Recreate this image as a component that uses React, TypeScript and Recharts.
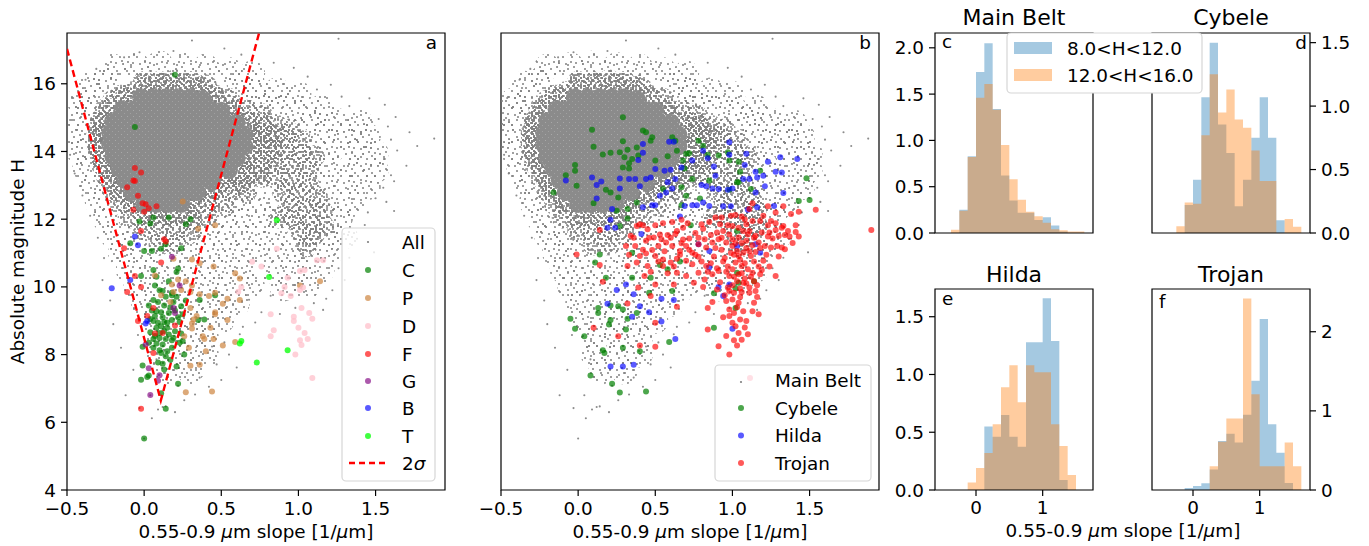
import React from 'react';
import { ScatterChart, Scatter, XAxis, YAxis, ReferenceArea, ComposedChart, Area } from 'recharts';

type Pt = [number, number];

const FONT = '"DejaVu Sans", Verdana, sans-serif';
const FS = 18.4;
const TICK = { fontSize: FS, fill: '#000', fontFamily: FONT };
const TICKLINE = { stroke: '#000', strokeWidth: 1.2 };
const GRAY = '#808080';

// ---------- shared background cloud (all objects / main belt) ----------
// solid core of the distribution
const cloudCore: Pt[] = [
  [-0.02, 15.6], [0.06, 15.6], [0.14, 15.6], [0.22, 15.6], [0.3, 15.6], [0.38, 15.55],
  [-0.14, 15.25], [-0.06, 15.25], [0.02, 15.25], [0.1, 15.25], [0.18, 15.25], [0.26, 15.25], [0.34, 15.25], [0.42, 15.25], [0.5, 15.2],
  [-0.2, 14.9], [-0.12, 14.9], [-0.04, 14.9], [0.04, 14.9], [0.12, 14.9], [0.2, 14.9], [0.28, 14.9], [0.36, 14.9], [0.44, 14.9], [0.52, 14.9], [0.6, 14.85],
  [-0.22, 14.55], [-0.14, 14.55], [-0.06, 14.55], [0.02, 14.55], [0.1, 14.55], [0.18, 14.55], [0.26, 14.55], [0.34, 14.55], [0.42, 14.55], [0.5, 14.55], [0.58, 14.55], [0.65, 14.5],
  [-0.22, 14.2], [-0.14, 14.2], [-0.06, 14.2], [0.02, 14.2], [0.1, 14.2], [0.18, 14.2], [0.26, 14.2], [0.34, 14.2], [0.42, 14.2], [0.5, 14.2], [0.58, 14.2], [0.65, 14.15],
  [-0.2, 13.85], [-0.12, 13.85], [-0.04, 13.85], [0.04, 13.85], [0.12, 13.85], [0.2, 13.85], [0.28, 13.85], [0.36, 13.85], [0.44, 13.85], [0.52, 13.85], [0.6, 13.8],
  [-0.16, 13.5], [-0.08, 13.5], [0.0, 13.5], [0.08, 13.5], [0.16, 13.5], [0.24, 13.5], [0.32, 13.5], [0.4, 13.5], [0.48, 13.5], [0.55, 13.45],
  [-0.12, 13.15], [-0.04, 13.15], [0.04, 13.15], [0.12, 13.15], [0.2, 13.15], [0.28, 13.15], [0.36, 13.15], [0.44, 13.1],
  [-0.08, 12.8], [0.02, 12.8], [0.1, 12.8], [0.18, 12.8], [0.26, 12.8], [0.34, 12.8],
  [0.0, 12.45], [0.08, 12.45], [0.16, 12.45], [0.24, 12.45],
];

// dense ring hugging the core
const cloudInner: Pt[] = [
  [0.0, 15.95], [0.12, 16.0], [0.24, 15.98], [0.36, 15.9],
  [-0.12, 15.6], [0.46, 15.6], [-0.22, 15.25], [0.58, 15.2],
  [-0.28, 14.9], [0.68, 14.85], [0.78, 14.75], [-0.3, 14.55], [0.74, 14.5], [0.84, 14.45],
  [-0.3, 14.2], [0.74, 14.15], [0.84, 14.1], [-0.28, 13.85], [0.7, 13.8], [0.8, 13.75],
  [-0.24, 13.5], [0.64, 13.45], [0.74, 13.4], [-0.2, 13.15], [0.53, 13.1], [0.63, 13.1],
  [-0.16, 12.8], [0.43, 12.8], [-0.08, 12.45], [0.33, 12.45],
  [0.04, 12.1], [0.16, 12.1], [0.28, 12.1],
];

// moderately dense belt around the core
const cloudMid: Pt[] = [
  [0.0, 16.05], [0.1, 16.05], [0.2, 16.1], [0.3, 16.05], [0.4, 15.95],
  [-0.15, 15.65], [-0.08, 15.75], [0.46, 15.65], [0.55, 15.55],
  [-0.25, 15.25], [-0.2, 15.5], [0.58, 15.25], [0.67, 15.2], [0.76, 15.1],
  [-0.28, 14.85], [0.68, 14.85], [0.77, 14.8], [0.86, 14.75], [0.95, 14.65],
  [-0.3, 14.45], [0.73, 14.45], [0.82, 14.45], [0.92, 14.4], [1.02, 14.3],
  [-0.3, 14.05], [0.72, 14.05], [0.82, 14.05], [0.92, 14.0], [1.02, 13.95], [1.1, 13.85],
  [-0.28, 13.65], [0.66, 13.65], [0.76, 13.65], [0.86, 13.6], [0.96, 13.6], [1.06, 13.5],
  [-0.24, 13.25], [0.56, 13.2], [0.66, 13.25], [0.76, 13.25], [0.86, 13.2], [0.96, 13.15], [1.06, 13.1],
  [-0.2, 12.85], [0.46, 12.85], [0.56, 12.85], [0.66, 12.8], [0.9, 12.8], [1.0, 12.75], [1.12, 12.65],
  [-0.15, 12.45], [-0.06, 12.45], [0.32, 12.45], [0.42, 12.45], [0.52, 12.4], [0.95, 12.4], [1.05, 12.35], [1.15, 12.25],
  [-0.1, 12.05], [0.0, 12.05], [0.1, 12.05], [0.2, 12.05], [0.3, 12.0], [0.4, 12.05], [0.88, 12.05], [0.97, 12.0], [1.07, 11.95],
  [0.0, 11.65], [0.1, 11.65], [0.2, 11.65], [0.3, 11.6], [1.02, 11.6], [1.1, 11.55], [1.16, 11.8],
  [0.1, 11.25], [0.2, 11.25], [1.05, 11.2],
];

// sparse outer envelope
const cloudOuter: Pt[] = [
  [-0.2, 16.5], [-0.05, 16.55], [0.1, 16.6], [0.25, 16.55], [0.4, 16.5], [0.55, 16.4], [0.7, 16.3],
  [-0.35, 16.0], [-0.25, 16.1], [0.62, 15.95], [0.72, 15.85], [0.86, 15.8], [1.0, 15.7],
  [-0.42, 15.5], [-0.34, 15.45], [0.74, 15.45], [0.86, 15.35], [1.0, 15.2], [1.15, 15.3],
  [-0.42, 15.0], [1.1, 14.95], [1.25, 14.9], [1.4, 14.85],
  [-0.45, 14.5], [1.15, 14.55], [1.3, 14.5], [1.45, 14.45],
  [-0.42, 14.0], [1.2, 14.05], [1.35, 14.0], [1.5, 13.95],
  [-0.38, 13.5], [1.2, 13.55], [1.35, 13.5], [1.5, 13.45],
  [-0.34, 13.0], [1.15, 13.05], [1.3, 13.0], [1.45, 12.95],
  [-0.3, 12.5], [0.62, 12.5], [0.76, 12.5], [1.2, 12.5], [1.35, 12.45],
  [-0.25, 12.0], [0.52, 12.0], [0.66, 12.0], [0.8, 12.0], [0.92, 12.1], [1.14, 12.0], [1.27, 12.05],
  [-0.2, 11.5], [-0.08, 11.5], [0.4, 11.5], [0.55, 11.5], [0.7, 11.5], [0.85, 11.5], [1.18, 11.45], [1.3, 11.5],
  [-0.15, 11.0], [0.0, 11.0], [0.3, 11.0], [0.45, 11.0], [0.6, 11.0], [0.75, 11.0], [0.9, 11.0], [1.05, 10.95], [1.2, 11.0],
  [-0.1, 10.5], [0.05, 10.5], [0.2, 10.5], [0.35, 10.5], [0.5, 10.5], [0.65, 10.5], [0.85, 10.45], [1.0, 10.5], [1.15, 10.5],
  [-0.05, 10.0], [0.1, 10.0], [0.25, 10.0], [0.4, 10.0], [0.55, 10.0], [0.7, 10.0], [0.9, 9.95], [1.05, 10.0],
  [0.0, 9.5], [0.15, 9.5], [0.3, 9.5], [0.45, 9.5], [0.6, 9.5],
  [0.05, 9.0], [0.2, 9.0], [0.35, 9.0], [0.5, 9.0],
  [0.1, 8.5], [0.25, 8.5], [0.4, 8.5],
  [0.1, 8.0], [0.25, 8.0], [0.4, 8.0],
  [0.15, 7.5], [0.3, 7.5],
];

// isolated objects far from the bulk
const cloudDots: Pt[] = [
  [0.31, 17.28], [1.26, 17.33], [0.19, 16.97], [0.52, 17.04], [-0.03, 16.93], [0.63, 16.86], [-0.13, 16.78], [0.84, 16.62],
  [0.97, 16.47], [-0.31, 16.44], [1.06, 16.21], [-0.38, 16.12], [1.21, 15.97], [1.12, 15.83], [-0.46, 15.58], [1.28, 15.62],
  [1.46, 15.57], [1.56, 15.38], [1.33, 15.34], [-0.48, 14.93], [1.52, 14.96], [1.63, 15.02], [1.58, 14.74], [1.72, 14.57],
  [1.6, 14.35], [1.88, 14.38], [1.77, 14.16], [1.64, 14.03], [1.56, 13.78], [1.7, 13.58], [1.6, 13.3], [1.62, 13.12],
  [1.55, 12.93], [1.5, 12.62], [1.57, 12.51], [1.45, 12.2], [1.62, 12.24], [1.43, 11.83], [1.38, 11.42], [1.49, 11.02],
  [1.33, 10.86], [1.26, 10.55], [1.3, 10.2], [1.22, 9.9], [1.18, 9.65], [1.1, 9.52], [0.98, 9.38], [0.88, 9.2],
  [0.76, 9.25], [0.72, 8.95], [0.64, 8.82], [0.62, 8.6], [0.52, 8.36], [0.55, 8.0], [0.6, 7.62], [0.5, 7.25],
  [0.42, 7.05], [0.33, 6.82], [0.26, 6.65], [0.12, 6.45], [0.2, 6.3], [0.05, 6.12], [0.0, 5.52], [-0.12, 6.8],
  [0.04, 6.8], [-0.03, 6.42], [0.09, 6.38], [0.14, 6.47], [-0.07, 7.55], [-0.15, 8.2], [-0.2, 8.9], [-0.22, 9.6],
  [-0.27, 10.2], [-0.26, 10.85], [-0.3, 11.45], [-0.35, 12.1], [-0.4, 12.7], [-0.45, 13.35], [-0.48, 13.9], [0.36, 7.32],
  [0.22, 7.08], [0.47, 7.71], [0.08, 7.86], [-0.04, 8.58], [0.44, 8.24], [0.68, 9.62], [0.82, 9.74], [1.16, 9.32],
];

// ---------- panel a: taxonomic classes ----------
const classC: Pt[] = [
  [-0.03, 11.93], [0.06, 12.05], [0.16, 12.05], [0.04, 11.87], [0.27, 11.85], [0.3, 12.0], [-0.09, 11.29], [0.0, 11.06],
  [0.05, 11.06], [0.11, 11.13], [0.14, 11.26], [0.24, 11.14], [-0.02, 10.32], [0.06, 10.5], [0.08, 10.3], [0.22, 10.54],
  [0.21, 10.44], [0.16, 10.17], [0.07, 10.04], [0.12, 9.88], [0.18, 9.83], [0.14, 9.71], [0.18, 9.75], [0.21, 9.71],
  [0.06, 9.61], [0.09, 9.55], [0.03, 9.45], [0.13, 9.45], [0.19, 9.55], [0.24, 9.43], [0.08, 9.28], [0.11, 9.25],
  [0.16, 9.23], [0.07, 9.14], [0.25, 9.19], [0.06, 8.99], [0.09, 8.94], [0.13, 8.96], [0.18, 9.02], [0.23, 8.96],
  [0.08, 8.79], [0.11, 8.84], [0.15, 8.79], [0.2, 8.69], [0.04, 8.66], [0.1, 8.64], [0.16, 8.59], [0.24, 8.62],
  [0.06, 8.46], [0.1, 8.49], [0.14, 8.46], [0.18, 8.42], [0.23, 8.35], [0.25, 8.4], [0.03, 8.35], [0.08, 8.33],
  [0.12, 8.3], [-0.01, 8.23], [0.06, 8.2], [0.1, 8.13], [0.15, 8.1], [0.18, 8.2], [0.11, 8.05], [0.14, 7.95],
  [0.09, 7.77], [0.12, 7.73], [0.17, 7.85], [-0.01, 7.68], [0.21, 7.65], [0.26, 8.0], [0.39, 9.04], [0.35, 9.02],
  [0.46, 9.75], [0.36, 9.61], [0.13, 7.56], [0.03, 7.38], [0.02, 7.34], [-0.02, 7.26], [0.22, 7.14], [0.11, 6.86],
  [0.14, 6.4], [0.0, 5.52], [0.2, 16.27], [-0.06, 14.72],
  [0.05, 9.3], [0.12, 9.1], [0.2, 9.3], [0.15, 8.95], [0.07, 8.55], [0.19, 8.5], [0.13, 8.7], [0.04, 9.05],
  [0.22, 9.1], [0.17, 9.4], [0.1, 9.9], [0.27, 9.6],
];
const classP: Pt[] = [
  [0.25, 12.52], [0.46, 11.82], [0.35, 11.72], [0.31, 10.81], [0.36, 10.7], [0.45, 10.6], [0.19, 10.83], [0.59, 10.4],
  [0.62, 10.25], [0.07, 10.34], [0.22, 10.22], [0.27, 10.17], [0.31, 10.04], [0.24, 9.91], [0.3, 9.85], [0.36, 9.78],
  [0.42, 9.73], [0.46, 9.83], [0.54, 9.65], [0.62, 9.61], [0.51, 9.5], [0.11, 9.75], [0.17, 9.55], [0.3, 9.38],
  [0.46, 9.25], [0.46, 9.19], [0.54, 9.02], [0.34, 9.14], [0.32, 9.04], [0.31, 8.92], [0.31, 8.77], [0.43, 8.79],
  [0.26, 8.54], [0.38, 8.54], [0.39, 8.46], [0.45, 8.46], [0.51, 8.27], [0.59, 8.37], [0.4, 8.1], [0.29, 8.2],
  [0.3, 7.67], [0.36, 7.7], [0.27, 6.89], [0.44, 6.91], [0.19, 9.85], [0.18, 10.07], [1.14, 10.17], [1.01, 10.04],
];
const classD: Pt[] = [
  [0.7, 10.74], [0.76, 10.6], [0.86, 11.13], [1.01, 10.47], [1.04, 10.5], [1.12, 10.79], [1.16, 10.79], [0.93, 10.27],
  [0.91, 10.0], [0.95, 9.73], [0.89, 9.81], [0.63, 10.0], [0.61, 9.86], [1.03, 9.98], [1.01, 9.91], [1.02, 9.38],
  [1.07, 9.23], [1.09, 9.06], [0.97, 9.12], [0.97, 8.99], [0.82, 9.19], [1.0, 8.79], [1.04, 8.64], [1.06, 8.46],
  [1.01, 8.42], [1.02, 8.28], [0.84, 8.72], [0.82, 8.54], [0.98, 8.0], [1.09, 7.31],
];
const classF: Pt[] = [
  [-0.07, 13.14], [-0.11, 12.94], [-0.04, 12.69], [-0.01, 12.47], [0.01, 12.44], [0.08, 12.38], [-0.07, 12.28],
  [0.0, 12.22], [0.03, 12.32], [-0.02, 11.65], [0.13, 11.41], [0.14, 11.34], [-0.13, 11.14], [0.11, 10.72],
  [-0.06, 10.32], [-0.02, 10.0], [-0.11, 9.85], [0.06, 9.38], [0.02, 9.14], [-0.04, 8.99], [0.07, 8.62],
  [0.12, 8.64], [0.2, 8.86], [0.06, 8.05], [-0.02, 6.4], [-0.06, 13.51], [-0.02, 13.38], [-0.06, 13.13],
];
const classG: Pt[] = [
  [0.18, 10.89], [0.23, 10.04], [0.19, 9.38], [0.2, 9.23], [0.01, 8.3], [0.03, 7.6], [0.1, 7.39], [0.09, 7.23], [0.04, 6.81],
];
const classB: Pt[] = [[-0.06, 11.49], [-0.04, 11.23], [-0.09, 10.2], [-0.21, 9.96], [0.02, 8.99], [0.01, 8.92]];
const classT: Pt[] = [[0.86, 11.97], [0.81, 10.29], [0.63, 8.4], [0.62, 8.33], [0.73, 7.77], [0.93, 8.13]];
const sigmaLine: Pt[] = [[-0.5, 17.03], [0.108, 6.64], [0.744, 17.48]];

// ---------- panel b: outer populations ----------
const cybele: Pt[] = [
  [0.29, 15.01], [0.09, 14.64], [0.42, 14.62], [0.44, 14.57], [0.48, 14.42], [0.47, 14.32], [0.29, 14.3], [0.1, 14.14],
  [0.16, 13.91], [0.21, 13.96], [0.27, 13.98], [0.32, 14.05], [0.38, 14.12], [0.3, 13.83], [0.35, 13.78], [0.39, 13.88],
  [0.33, 13.65], [0.29, 13.53], [0.33, 13.5], [-0.02, 13.6], [-0.02, 13.43], [-0.08, 13.3], [-0.01, 12.99], [-0.16, 12.79],
  [0.5, 13.73], [0.58, 13.86], [0.61, 14.42], [0.63, 14.32], [0.64, 14.02], [0.7, 13.93], [0.72, 13.95], [0.68, 13.73],
  [0.78, 14.32], [0.81, 14.17], [0.84, 13.9], [0.91, 13.88], [0.97, 13.98], [0.98, 13.73], [1.04, 13.7], [1.05, 13.4],
  [1.04, 13.09], [1.12, 12.89], [1.18, 13.43], [1.48, 13.21], [1.5, 12.57], [1.43, 12.54], [0.69, 13.5], [0.7, 12.69],
  [0.67, 12.41], [0.79, 12.61], [0.85, 13.14], [0.98, 12.87], [1.03, 13.09], [0.21, 12.79], [0.18, 12.87], [0.26, 12.64],
  [0.1, 12.47], [0.25, 12.25], [0.32, 12.3], [0.38, 12.49], [0.55, 12.89], [0.67, 12.94], [0.74, 13.19], [0.27, 11.8],
  [0.32, 12.02], [0.14, 10.96], [0.11, 10.72], [0.35, 11.01], [0.53, 10.65], [0.58, 10.52], [0.66, 10.75], [0.73, 11.82],
  [1.03, 11.65], [1.03, 10.42], [1.04, 10.12], [0.18, 10.27], [0.35, 10.27], [0.47, 10.27], [0.61, 9.88], [0.88, 9.81],
  [1.14, 10.17], [0.46, 9.83], [1.02, 9.95], [0.13, 9.38], [0.21, 9.45], [0.26, 9.43], [0.29, 9.33], [0.13, 9.23],
  [0.38, 9.23], [0.32, 9.06], [-0.05, 9.06], [0.21, 9.02], [0.2, 8.89], [-0.02, 8.76], [0.31, 8.74], [0.04, 8.54],
  [0.59, 8.37], [0.4, 8.1], [0.29, 8.2], [0.16, 8.13], [0.17, 8.05], [0.88, 8.79], [1.02, 9.38], [0.08, 7.38],
  [0.22, 7.14], [0.27, 6.88], [0.44, 6.91],
];
const hilda: Pt[] = [
  [0.42, 14.22], [0.59, 14.29], [0.62, 14.29], [0.42, 13.96], [0.39, 13.75], [-0.08, 13.14], [0.09, 13.23], [0.12, 13.01],
  [0.15, 13.11], [0.12, 12.61], [0.27, 13.2], [0.27, 12.91], [0.33, 13.19], [0.37, 13.19], [0.4, 12.97], [0.44, 13.19],
  [0.47, 13.23], [0.5, 13.48], [0.56, 13.43], [0.6, 13.46], [0.63, 13.19], [0.58, 13.09], [0.53, 12.69], [0.57, 12.79],
  [0.61, 12.91], [0.67, 13.53], [0.74, 13.73], [0.81, 14.02], [0.84, 13.8], [0.98, 14.27], [0.98, 13.9], [0.88, 13.56],
  [0.89, 13.28], [0.8, 13.01], [0.83, 12.97], [0.87, 12.91], [0.91, 12.89], [0.97, 12.87], [1.0, 12.91], [1.07, 13.19],
  [1.11, 13.19], [1.16, 13.23], [1.15, 13.4], [1.2, 13.28], [1.21, 12.97], [1.15, 12.79], [1.08, 13.6], [1.23, 13.7],
  [1.31, 13.83], [1.42, 13.78], [1.28, 13.4], [1.32, 13.38], [1.09, 13.93], [0.69, 12.39], [0.74, 12.41], [0.77, 12.41],
  [0.81, 12.49], [0.85, 12.39], [0.94, 12.38], [0.99, 12.38], [1.1, 12.28], [1.16, 12.35], [1.27, 12.39], [1.33, 12.77],
  [0.48, 12.41], [0.5, 12.41], [0.42, 12.35], [0.22, 12.3], [0.21, 11.98], [0.19, 11.75], [0.24, 11.75], [0.41, 11.56],
  [0.66, 12.08], [0.78, 11.26], [0.85, 11.06], [1.15, 11.26], [1.18, 11.01], [0.98, 10.07], [0.85, 10.57], [0.31, 10.07],
  [0.25, 9.91], [1.03, 11.2], [0.36, 9.78], [0.19, 9.5], [0.4, 9.43], [0.46, 9.25], [0.35, 9.12], [0.54, 9.65],
  [0.62, 9.61], [0.54, 8.98], [0.63, 8.46], [0.21, 7.65], [0.29, 7.65], [0.36, 7.7], [0.91, 10.0], [0.94, 9.73], [1.0, 8.76],
];
const trojan: Pt[] = [
  [0.14, 11.68], [-0.01, 10.96], [0.14, 10.65], [0.38, 11.8], [0.4, 11.85], [0.42, 11.82], [0.45, 11.7], [0.5, 11.82],
  [0.55, 11.88], [0.61, 11.92], [0.67, 11.98], [0.71, 11.88], [0.34, 11.51], [0.31, 11.21], [0.37, 11.21], [0.44, 11.36],
  [0.49, 11.46], [0.54, 11.41], [0.58, 11.53], [0.63, 11.56], [0.67, 11.29], [0.72, 11.43], [0.76, 11.59], [0.81, 11.72],
  [0.85, 11.92], [0.89, 12.05], [0.93, 12.05], [0.99, 12.1], [1.02, 12.12], [1.06, 12.08], [1.11, 12.3], [1.13, 12.47],
  [1.2, 12.1], [1.28, 12.2], [1.33, 12.38], [1.38, 12.15], [1.43, 12.22], [1.54, 12.28], [1.9, 11.68], [1.23, 11.82],
  [1.28, 11.88], [1.33, 11.8], [1.41, 11.82], [1.41, 11.62], [1.43, 11.49], [1.37, 11.49], [1.32, 11.16], [1.29, 11.21],
  [1.34, 11.53], [1.26, 11.43], [1.23, 11.49], [1.19, 11.61], [1.15, 11.51], [1.11, 11.65], [1.07, 11.65], [1.04, 11.75],
  [1.0, 11.8], [0.97, 11.82], [0.94, 11.65], [0.9, 11.61], [0.86, 11.53], [0.82, 11.41], [0.78, 11.26], [0.83, 11.16],
  [0.87, 11.31], [0.91, 11.41], [0.96, 11.31], [1.0, 11.41], [1.04, 11.46], [1.09, 11.36], [1.13, 11.23], [1.17, 11.31],
  [1.21, 11.21], [1.25, 11.16], [1.0, 11.21], [1.03, 11.06], [1.07, 11.01], [1.12, 10.91], [1.15, 11.03], [1.2, 10.77],
  [1.28, 10.32], [1.04, 10.91], [1.02, 10.72], [1.06, 10.62], [1.1, 10.52], [1.13, 10.42], [1.04, 10.37], [1.0, 10.52],
  [0.98, 10.32], [1.03, 10.17], [1.07, 10.12], [1.11, 9.98], [1.15, 9.88], [1.06, 9.85], [1.01, 9.83], [0.97, 9.98],
  [0.92, 10.14], [0.87, 10.37], [0.83, 10.62], [0.78, 10.89], [0.74, 11.01], [0.7, 11.21], [0.66, 11.06], [0.61, 11.21],
  [0.57, 11.31], [0.52, 11.21], [0.48, 11.09], [0.44, 10.99], [0.4, 10.91], [0.5, 10.91], [0.55, 10.81], [0.6, 10.72],
  [0.64, 10.83], [0.7, 10.77], [0.74, 10.67], [0.78, 10.42], [0.82, 10.22], [0.7, 10.32], [0.64, 10.42], [0.55, 10.62],
  [0.45, 10.62], [0.38, 10.72], [0.32, 10.62], [0.43, 10.32], [0.5, 10.07], [0.62, 10.07], [0.75, 10.12], [0.81, 10.0],
  [0.9, 9.92], [1.32, 11.75], [1.28, 11.68], [1.24, 11.61], [1.13, 11.95], [1.08, 12.0], [1.23, 12.38], [1.34, 11.11],
  [0.16, 10.15], [0.39, 9.98], [0.91, 10.47], [1.18, 10.37], [1.14, 10.17], [0.98, 9.88], [1.11, 9.83], [0.47, 9.73],
  [0.64, 9.41], [0.32, 9.51], [0.5, 8.94], [0.4, 8.27], [0.5, 8.23], [0.26, 8.54], [0.1, 8.79], [1.0, 9.63],
  [0.96, 9.58], [1.04, 9.53], [1.14, 9.53], [0.87, 9.55], [0.84, 9.38], [0.98, 9.33], [1.01, 9.23], [1.07, 9.28],
  [1.13, 9.28], [1.17, 9.19], [0.98, 9.14], [1.05, 9.04], [1.09, 8.99], [1.0, 8.94], [1.02, 8.84], [1.04, 8.64],
  [1.06, 8.44], [1.01, 8.42], [1.03, 8.27], [0.98, 8.0], [0.91, 8.25], [0.84, 8.74],
  [0.93, 11.1], [0.95, 10.85], [0.97, 10.6], [0.99, 11.0], [1.01, 10.95], [1.05, 10.8], [1.08, 10.7], [1.09, 11.15],
  [1.11, 11.05], [1.14, 10.75], [1.17, 10.6], [1.06, 10.4], [1.08, 10.25], [1.01, 10.3], [0.96, 10.45], [0.94, 10.75],
  [1.0, 10.05], [1.05, 9.95], [1.09, 10.1], [1.12, 10.3], [1.16, 10.05], [1.19, 10.5], [1.22, 10.95], [1.18, 11.15],
  [1.14, 11.45], [1.1, 11.55], [1.06, 11.3], [1.02, 11.3], [0.98, 11.55], [0.93, 11.45], [0.89, 11.15], [0.88, 10.9],
  [0.86, 10.7], [0.9, 10.55], [0.84, 10.45], [0.8, 10.75], [0.76, 10.95], [0.72, 11.1], [0.68, 11.4], [0.64, 11.65],
  [0.6, 11.45], [0.56, 11.05], [0.52, 10.75], [0.58, 10.4], [0.62, 10.6], [0.66, 10.95], [0.46, 11.45], [0.42, 11.1],
  [0.36, 11.45], [0.33, 10.95], [0.47, 10.45], [0.53, 11.55], [0.68, 11.75], [0.78, 11.45], [0.8, 11.85], [0.92, 11.85],
  [1.09, 11.85], [1.18, 11.95], [1.25, 11.95], [1.3, 11.5], [1.36, 11.65], [1.39, 11.3], [1.3, 10.9], [1.24, 10.6],
  [1.16, 9.7], [1.05, 9.7], [0.95, 9.75], [1.03, 9.4], [0.94, 9.1], [1.08, 8.8], [0.96, 8.55], [1.1, 8.6],
];

// ---------- histograms (density per bin, bins start at each edge) ----------
const binEdges = [-0.375, -0.25, -0.125, 0, 0.125, 0.25, 0.375, 0.5, 0.625, 0.75, 0.875, 1.0, 1.125, 1.25, 1.375, 1.5, 1.625];
const mbLow = [0, 0.25, 0.83, 1.74, 2.05, 1.34, 0.62, 0.35, 0.22, 0.22, 0.14, 0.17, 0.08, 0.015, 0, 0];
const mbHigh = [0.036, 0.24, 0.82, 1.46, 1.61, 1.33, 0.95, 0.58, 0.36, 0.23, 0.18, 0.11, 0.04, 0.03, 0.015, 0.015];
const cyLow = [0, 0, 0.22, 0.42, 1.07, 1.5, 0.855, 0.63, 0.21, 0.42, 0.75, 1.07, 0.75, 0.1, 0, 0];
const cyHigh = [0, 0.053, 0.24, 0.23, 0.77, 1.25, 0.95, 1.13, 0.895, 0.83, 0.65, 0.41, 0.41, 0, 0.11, 0.05];
const hiLow = [0, 0, 0, 0, 0.55, 0.46, 0.65, 0.46, 0.375, 1.28, 1.28, 1.66, 1.29, 0.087, 0, 0];
const hiHigh = [0, 0, 0.066, 0.19, 0.32, 0.57, 0.89, 1.08, 0.76, 1.08, 1.02, 1.02, 0.57, 0.38, 0.13, 0];
const trLow = [0, 0, 0.025, 0.05, 0.084, 0.26, 0.62, 0.71, 0.6, 0.95, 1.38, 2.16, 0.83, 0.47, 0.09, 0];
const trHigh = [0, 0, 0, 0, 0, 0.3, 0.61, 0.905, 0.905, 2.42, 1.21, 0.3, 0.3, 0.3, 0.6, 0.3];

const X_DOM: [number, number] = [-0.5, 1.95];
const Y_DOM: [number, number] = [4, 17.5];
const X_TICKS = [-0.5, 0, 0.5, 1, 1.5];
const H_TICKS = [4, 6, 8, 10, 12, 14, 16];
const HX_DOM: [number, number] = [-0.615, 1.755];

const rows = (pts: Pt[]) => pts.map(([x, y]) => ({ x, y }));
const histRows = (lo: number[], hi: number[]) =>
  binEdges.map((x, i) => ({ x, lo: lo[i] ?? 0, hi: hi[i] ?? 0 }));

const dot = (r: number, fill: string, op = 1) => (p: any) =>
  p.cx == null ? <g /> : <circle cx={p.cx} cy={p.cy} r={r} fill={fill} fillOpacity={op} />;
const noShape = () => <g />;

const fmtX = (v: number) => (v < 0 ? '\u2212' : '') + Math.abs(v).toFixed(1);

// stipple textures (several non-commensurate tiles so the speckle does not look like a grid)
const TEX: Record<string, { size: number; pts: Pt[] }> = {
  tA: { size: 13, pts: [[2, 2], [8, 4], [11, 10], [4, 9], [7, 12]] },
  tB: { size: 17, pts: [[1, 6], [6, 1], [10, 6], [15, 3], [4, 13], [9, 11], [14, 12], [12, 16]] },
  tC: { size: 11, pts: [[1, 4], [6, 2], [8, 8], [3, 9]] },
  tD: { size: 7, pts: [[2, 1], [5, 5]] },
  tE: { size: 23, pts: [[3, 5], [12, 2], [19, 9], [7, 15], [16, 19]] },
  tF: { size: 5, pts: [[1, 3], [4, 1]] },
};

function Textures() {
  return (
    <svg width={0} height={0} style={{ position: 'absolute' }}>
      <defs>
        {Object.entries(TEX).map(([id, t]) => (
          <pattern key={id} id={id} width={t.size} height={t.size} patternUnits="userSpaceOnUse">
            {t.pts.map(([x, y], i) => <circle key={i} cx={x} cy={y} r={1} fill={GRAY} />)}
          </pattern>
        ))}
        <pattern id="tCore" width={6} height={6} patternUnits="userSpaceOnUse">
          <rect width={6} height={6} fill="#8b8b8b" />
          <rect x={1} y={2} width={1} height={1} fill="#a8a8a8" />
          <rect x={4} y={5} width={1} height={1} fill="#a0a0a0" />
        </pattern>
      </defs>
    </svg>
  );
}

// the same background cloud, drawn in both scatter panels
const cloudLayers: Array<[Pt[], number, string]> = [
  [cloudOuter, 13, 'tB'], [cloudOuter, 13, 'tE'],
  [cloudMid, 11, 'tA'], [cloudMid, 11, 'tB'], [cloudMid, 11, 'tC'], [cloudMid, 11, 'tD'],
  [cloudInner, 11, 'tA'], [cloudInner, 11, 'tB'], [cloudInner, 11, 'tC'], [cloudInner, 11, 'tD'], [cloudInner, 11, 'tF'],
  [cloudCore, 9, 'tCore'],
];

function renderCloud() {
  return [
    ...cloudLayers.map(([pts, r, tex], i) => (
      <Scatter key={`cl${i}`} data={rows(pts)} shape={dot(r, `url(#${tex})`)} isAnimationActive={false} />
    )),
    <Scatter key="cldots" data={rows(cloudDots)} shape={dot(1.05, GRAY, 0.9)} isAnimationActive={false} />,
  ];
}

function PanelA() {
  return (
    <ScatterChart width={460} height={546} margin={{ top: 33, right: 15, bottom: 0, left: 0 }}>
      <XAxis type="number" dataKey="x" domain={X_DOM} ticks={X_TICKS} tickFormatter={fmtX} allowDataOverflow
        height={56} tick={TICK} tickLine={TICKLINE} tickSize={6} tickMargin={6} axisLine={false} />
      <YAxis type="number" dataKey="y" domain={Y_DOM} ticks={H_TICKS} allowDataOverflow
        width={67} tick={TICK} tickLine={TICKLINE} tickSize={6} tickMargin={5} axisLine={false} />
      {renderCloud()}
      <Scatter data={rows(classC)} shape={dot(3, '#008000', 0.7)} isAnimationActive={false} />
      <Scatter data={rows(classP)} shape={dot(3, '#cd853f', 0.7)} isAnimationActive={false} />
      <Scatter data={rows(classD)} shape={dot(3, '#ffc0cb', 0.75)} isAnimationActive={false} />
      <Scatter data={rows(classF)} shape={dot(3, '#ff0000', 0.65)} isAnimationActive={false} />
      <Scatter data={rows(classG)} shape={dot(3, '#800080', 0.65)} isAnimationActive={false} />
      <Scatter data={rows(classB)} shape={dot(3, '#0000ff', 0.65)} isAnimationActive={false} />
      <Scatter data={rows(classT)} shape={dot(3, '#00ff00', 0.75)} isAnimationActive={false} />
      <Scatter data={rows(sigmaLine)} shape={noShape} line={{ stroke: '#ff0000', strokeWidth: 2.4, strokeDasharray: '7 4' }}
        lineType="joint" isAnimationActive={false} />
      <ReferenceArea x1={X_DOM[0]} x2={X_DOM[1]} y1={Y_DOM[0]} y2={Y_DOM[1]} fill="none" fillOpacity={0}
        stroke="#000" strokeWidth={1.2} strokeOpacity={1} />
    </ScatterChart>
  );
}

function PanelB() {
  return (
    <ScatterChart width={430} height={546} margin={{ top: 33, right: 11, bottom: 0, left: 0 }}>
      <XAxis type="number" dataKey="x" domain={X_DOM} ticks={X_TICKS} tickFormatter={fmtX} allowDataOverflow
        height={56} tick={TICK} tickLine={TICKLINE} tickSize={6} tickMargin={6} axisLine={false} />
      <YAxis type="number" dataKey="y" domain={Y_DOM} ticks={H_TICKS} allowDataOverflow
        width={41} tick={false} tickLine={false} axisLine={false} />
      {renderCloud()}
      <Scatter data={rows(cybele)} shape={dot(3, '#008000', 0.7)} isAnimationActive={false} />
      <Scatter data={rows(hilda)} shape={dot(3, '#0000ff', 0.65)} isAnimationActive={false} />
      <Scatter data={rows(trojan)} shape={dot(3, '#ff0000', 0.65)} isAnimationActive={false} />
      <ReferenceArea x1={X_DOM[0]} x2={X_DOM[1]} y1={Y_DOM[0]} y2={Y_DOM[1]} fill="none" fillOpacity={0}
        stroke="#000" strokeWidth={1.2} strokeOpacity={1} />
    </ScatterChart>
  );
}

interface HistProps {
  lo: number[];
  hi: number[];
  yMax: number;
  yTicks: number[];
  fmt: (v: number) => string;
  right?: boolean;
  bottom?: boolean;
}

function Hist({ lo, hi, yMax, yTicks, fmt, right, bottom }: HistProps) {
  const w = right ? 240 : 230;
  const h = bottom ? 286 : 260;
  const margin = {
    top: bottom ? 29 : 33,
    right: right ? 5 : 27,
    bottom: 0,
    left: right ? 32 : 0,
  };
  return (
    <ComposedChart width={w} height={h} data={histRows(lo, hi)} margin={margin}>
      {bottom ? (
        <XAxis type="number" dataKey="x" domain={HX_DOM} ticks={[0, 1]} allowDataOverflow height={56}
          tick={TICK} tickLine={TICKLINE} tickSize={6} tickMargin={5} axisLine={false} />
      ) : (
        <XAxis type="number" dataKey="x" domain={HX_DOM} allowDataOverflow height={27}
          tick={false} tickLine={false} axisLine={false} />
      )}
      <YAxis type="number" domain={[0, yMax]} ticks={yTicks} tickFormatter={fmt} allowDataOverflow
        orientation={right ? 'right' : 'left'} width={45} tick={TICK} tickLine={TICKLINE} tickSize={6}
        tickMargin={5} axisLine={false} />
      <Area type="stepAfter" dataKey="lo" stroke="none" fill="#1f77b4" fillOpacity={0.4}
        isAnimationActive={false} dot={false} activeDot={false} />
      <Area type="stepAfter" dataKey="hi" stroke="none" fill="#ff7f0e" fillOpacity={0.4}
        isAnimationActive={false} dot={false} activeDot={false} />
      <ReferenceArea x1={HX_DOM[0]} x2={HX_DOM[1]} y1={0} y2={yMax} fill="none" fillOpacity={0}
        stroke="#000" strokeWidth={1.2} strokeOpacity={1} />
    </ComposedChart>
  );
}

const f1 = (v: number) => v.toFixed(1);
const f0 = (v: number) => v.toFixed(0);

function SlopeLabel({ x, y }: { x: number; y: number }) {
  return (
    <text x={x} y={y} textAnchor="middle" fontSize={FS}>
      0.55-0.9 <tspan fontStyle="italic">μ</tspan>m slope [1/<tspan fontStyle="italic">μ</tspan>m]
    </text>
  );
}

function Overlay() {
  const rowA = [242, 270, 298, 326, 354, 381, 408, 436, 463];
  const classes: Array<[string, string, number]> = [
    ['C', '#008000', 0.7], ['P', '#cd853f', 0.7], ['D', '#ffc0cb', 0.75], ['F', '#ff0000', 0.65],
    ['G', '#800080', 0.65], ['B', '#0000ff', 0.65], ['T', '#00ff00', 0.75],
  ];
  const groups: Array<[string, string, number]> = [
    ['Cybele', '#008000', 0.7], ['Hilda', '#0000ff', 0.65], ['Trojan', '#ff0000', 0.65],
  ];
  const rowB = [380, 408, 435.5, 463];
  return (
    <svg width={1369} height={546} style={{ position: 'absolute', left: 0, top: 0, pointerEvents: 'none' }}
      fontFamily={FONT} fill="#000">
      {/* panel letters */}
      <text x={437} y={49} textAnchor="end" fontSize={FS}>a</text>
      <text x={871} y={49} textAnchor="end" fontSize={FS}>b</text>
      <text x={942} y={48} fontSize={FS}>c</text>
      <text x={1307} y={49} textAnchor="end" fontSize={FS}>d</text>
      <text x={942} y={305} fontSize={FS}>e</text>
      <text x={1159} y={308} fontSize={FS}>f</text>
      {/* titles */}
      <text x={1014} y={25} textAnchor="middle" fontSize={22}>Main Belt</text>
      <text x={1231} y={25} textAnchor="middle" fontSize={22}>Cybele</text>
      <text x={1014} y={282} textAnchor="middle" fontSize={22}>Hilda</text>
      <text x={1231} y={282} textAnchor="middle" fontSize={22}>Trojan</text>
      {/* axis labels */}
      <text transform="translate(24,261.5) rotate(-90)" textAnchor="middle" fontSize={FS}>Absolute magnitude H</text>
      <SlopeLabel x={256} y={538} />
      <SlopeLabel x={690} y={538} />
      <SlopeLabel x={1123} y={537} />
      {/* legend a */}
      <rect x={342} y={228} width={93} height={253} rx={4} fill="#fff" fillOpacity={0.8} stroke="#d6d6d6" strokeWidth={1.2} />
      <circle cx={368} cy={rowA[0]} r={1.1} fill={GRAY} />
      <text x={402} y={rowA[0] + 6.6} fontSize={FS}>All</text>
      {classes.map(([name, col, op], i) => (
        <g key={name}>
          <circle cx={368} cy={rowA[i + 1]} r={3} fill={col} fillOpacity={op} />
          <text x={402} y={rowA[i + 1] + 6.6} fontSize={FS}>{name}</text>
        </g>
      ))}
      <line x1={349} x2={386} y1={rowA[8]} y2={rowA[8]} stroke="#ff0000" strokeWidth={2.4} strokeDasharray="6 4" />
      <text x={402} y={rowA[8] + 6.6} fontSize={FS}>2<tspan fontStyle="italic">σ</tspan></text>
      {/* legend b */}
      <rect x={715} y={365} width={156} height={116} rx={4} fill="#fff" fillOpacity={0.8} stroke="#d6d6d6" strokeWidth={1.2} />
      <circle cx={741} cy={rowB[0] + 2} r={1.1} fill={GRAY} />
      <circle cx={750} cy={rowB[0] - 2} r={3} fill="#ffc0cb" fillOpacity={0.5} />
      <text x={775} y={rowB[0] + 6.6} fontSize={FS}>Main Belt</text>
      {groups.map(([name, col, op], i) => (
        <g key={name}>
          <circle cx={741} cy={rowB[i + 1]} r={3} fill={col} fillOpacity={op} />
          <text x={775} y={rowB[i + 1] + 6.6} fontSize={FS}>{name}</text>
        </g>
      ))}
      {/* histogram legend */}
      <rect x={1007} y={33} width={195} height={60} rx={4} fill="#fff" stroke="#d6d6d6" strokeWidth={1.2} />
      <rect x={1014} y={42} width={38} height={12} fill="#1f77b4" fillOpacity={0.4} />
      <rect x={1014} y={69} width={38} height={12} fill="#ff7f0e" fillOpacity={0.4} />
      <text x={1067} y={55} fontSize={FS}>8.0&lt;H&lt;12.0</text>
      <text x={1067} y={82} fontSize={FS}>12.0&lt;H&lt;16.0</text>
    </svg>
  );
}

export default function App() {
  return (
    <div style={{ position: 'absolute', left: 0, top: 0, width: 1369, height: 546, background: '#fff', fontFamily: FONT }}>
      <Textures />
      <div style={{ position: 'absolute', left: 0, top: 0 }}><PanelA /></div>
      <div style={{ position: 'absolute', left: 460, top: 0 }}><PanelB /></div>
      <div style={{ position: 'absolute', left: 890, top: 0 }}>
        <Hist lo={mbLow} hi={mbHigh} yMax={2.16} yTicks={[0, 0.5, 1, 1.5, 2]} fmt={f1} />
      </div>
      <div style={{ position: 'absolute', left: 1120, top: 0 }}>
        <Hist lo={cyLow} hi={cyHigh} yMax={1.576} yTicks={[0, 0.5, 1, 1.5]} fmt={f1} right />
      </div>
      <div style={{ position: 'absolute', left: 890, top: 260 }}>
        <Hist lo={hiLow} hi={hiHigh} yMax={1.74} yTicks={[0, 0.5, 1, 1.5]} fmt={f1} bottom />
      </div>
      <div style={{ position: 'absolute', left: 1120, top: 260 }}>
        <Hist lo={trLow} hi={trHigh} yMax={2.54} yTicks={[0, 1, 2]} fmt={f0} right bottom />
      </div>
      <Overlay />
    </div>
  );
}
